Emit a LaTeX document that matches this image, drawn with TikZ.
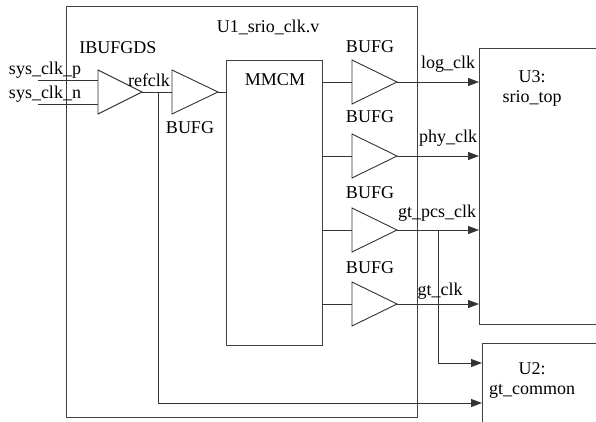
\documentclass[tikz,border=0pt]{standalone}
\usepackage{fontspec}
\setmainfont{Liberation Serif}
\usetikzlibrary{arrows.meta}
\begin{document}
\begin{tikzpicture}[x=1pt,y=-1pt,
  wire/.style={draw=black!80,line width=0.9pt},
  arr/.style={wire,-{Triangle[length=11pt,width=8pt]}},
  box/.style={draw=black!75,line width=0.9pt},
  lbl/.style={inner sep=0pt,font=\fontsize{18}{20}\selectfont},
  buf/.style={draw=black!80,line width=0.9pt,fill=white}]
\useasboundingbox (0,0) rectangle (596,422);
\clip (0,0) rectangle (596,422);
\fill[white] (0,0) rectangle (596,422);
% boxes
\draw[box] (66,6) rectangle (417,417);
\draw[box] (226,60) rectangle (322,345);
\draw[box] (479,48) rectangle (620,324);
\draw[box] (482,343) rectangle (620,440);
% named coordinates
\coordinate (pin) at (38,80);
\coordinate (nin) at (38,104);
\coordinate (ibp) at (98,80);
\coordinate (ibn) at (98,104);
\coordinate (ibo) at (142,92);
\coordinate (b0i) at (172,92);
\coordinate (b0o) at (218,92);
\coordinate (mm0) at (226,92);
\coordinate (br) at (158,92);
\coordinate (brd) at (158,403);
\coordinate (u2a) at (482,403);
\foreach \i/\y in {1/82,2/156,3/230,4/304}{
  \coordinate (m\i) at (322,\y);
  \coordinate (bi\i) at (352,\y);
  \coordinate (bo\i) at (397,\y);
  \coordinate (u3\i) at (479,\y);
}
\coordinate (gp) at (438,230);
\coordinate (gpd) at (438,363);
\coordinate (u2b) at (482,363);
% wires
\draw[wire] (pin) -- (ibp);
\draw[wire] (nin) -- (ibn);
\draw[wire] (ibo) -- (b0i);
\draw[wire] (b0o) -- (mm0);
\draw[arr] (br) -- (brd) -- (u2a);
\foreach \i in {1,2,3,4}{
  \draw[wire] (m\i) -- (bi\i);
  \draw[arr] (bo\i) -- (u3\i);
}
\draw[arr] (gp) -- (gpd) -- (u2b);
% buffers
\draw[buf] (98,70) -- (98,114) -- (ibo) -- cycle;
\draw[buf] (172,70) -- (172,114) -- (b0o) -- cycle;
\foreach \i/\y in {1/82,2/156,3/230,4/304}{
  \draw[buf] (352,\y-22) -- (352,\y+22) -- (bo\i) -- cycle;
}
% labels
\node[lbl] (tU1) at (268,27) {U1\_srio\_clk.v};
\node[lbl] (tIB) at (118,48) {IBUFGDS};
\node[lbl] (tsp) at (45,70) {sys\_clk\_p};
\node[lbl] (tsn) at (45,94) {sys\_clk\_n};
\node[lbl] (tref) at (149,80) {refclk};
\node[lbl] (tb0) at (190,128) {BUFG};
\node[lbl] (tmm) at (275,80) {MMCM};
\node[lbl] (tb1) at (370,47) {BUFG};
\node[lbl] (tb2) at (370,117) {BUFG};
\node[lbl] (tb3) at (370,193) {BUFG};
\node[lbl] (tb4) at (370,268) {BUFG};
\node[lbl] (tlog) at (448,64) {log\_clk};
\node[lbl] (tphy) at (448,138) {phy\_clk};
\node[lbl] (tgpcs) at (437,213) {gt\_pcs\_clk};
\node[lbl] (tgt) at (440,291) {gt\_clk};
\node[lbl,align=center] (tU3) at (532,88) {U3:\\srio\_top};
\node[lbl,align=center] (tU2) at (532,380) {U2:\\gt\_common};
\end{tikzpicture}
\end{document}
